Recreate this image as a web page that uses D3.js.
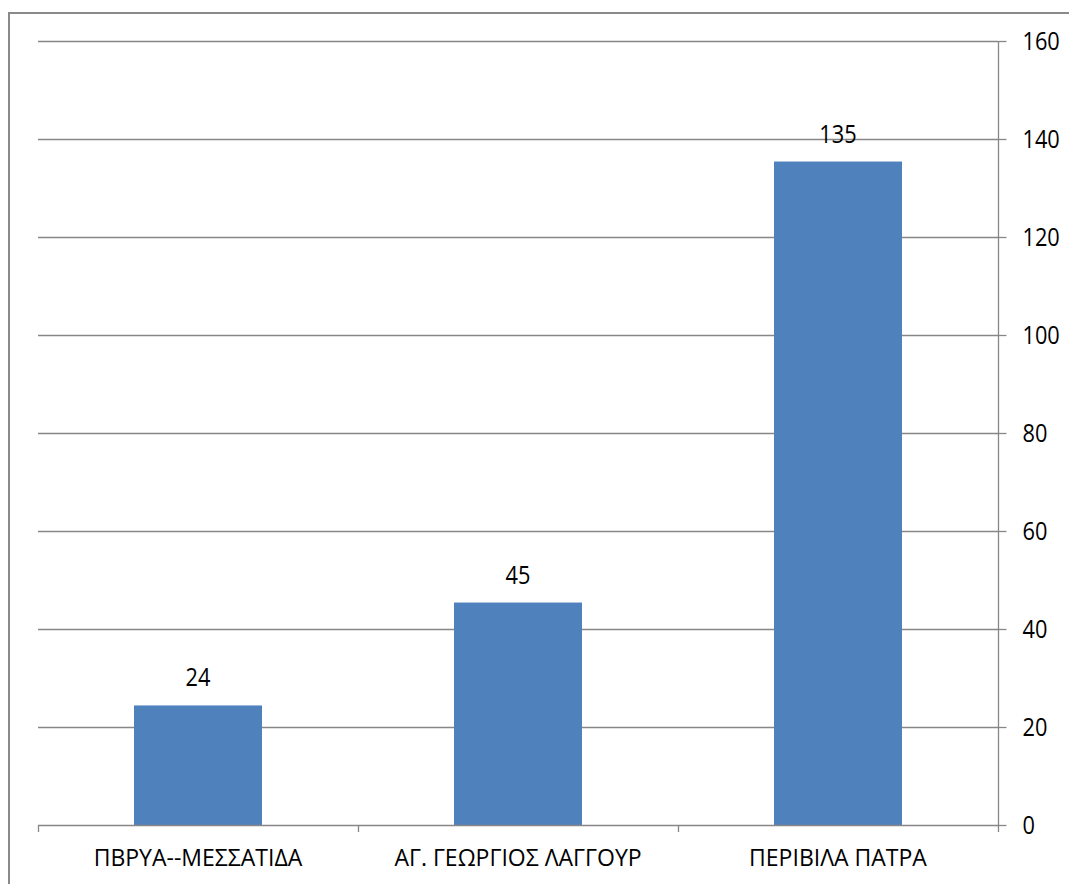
<!DOCTYPE html>
<html>
<head>
<meta charset="utf-8">
<script src="https://cdn.jsdelivr.net/npm/d3@7/dist/d3.min.js"></script>
<style>
  html, body { margin: 0; padding: 0; background: #fff; }
  svg { display: block; }
  text { font-family: "Open Sans", "Noto Sans", sans-serif; fill: #000; }
</style>
</head>
<body>
<svg id="chart" width="1069" height="884"></svg>
<script>
const categories = ["ΠΒΡΥΑ--ΜΕΣΣΑΤΙΔΑ", "ΑΓ. ΓΕΩΡΓΙΟΣ ΛΑΓΓΟΥΡ", "ΠΕΡΙΒΙΛΑ ΠΑΤΡΑ"];
const values = [24.4, 45.4, 135.4];
const yTicks = [0, 20, 40, 60, 80, 100, 120, 140, 160];

const svg = d3.select("#chart");
const plot = { left: 38, right: 998, top: 41, bottom: 825 };
const gridColor = "#878787";
const numSize = 25, numSquish = 0.87;

// outer border (extends past right/bottom of image)
svg.append("rect")
  .attr("x", 9).attr("y", 13)
  .attr("width", 1100).attr("height", 900)
  .attr("fill", "none").attr("stroke", "#8a8a8a").attr("stroke-width", 2);

const x = d3.scaleBand().domain(categories)
  .range([plot.left, plot.right]).paddingInner(0.6).paddingOuter(0.3);
const y = d3.scaleLinear().domain([0, 160]).range([plot.bottom, plot.top]);

// gridlines
svg.append("g").selectAll("line").data(yTicks.filter(d => d > 0)).join("line")
  .attr("x1", plot.left).attr("x2", plot.right)
  .attr("y1", d => Math.round(y(d)) + 0.5).attr("y2", d => Math.round(y(d)) + 0.5)
  .attr("stroke", gridColor).attr("stroke-width", 1.3);

// bars
svg.append("g").selectAll("rect").data(values).join("rect")
  .attr("x", (d, i) => x(categories[i]))
  .attr("width", x.bandwidth())
  .attr("y", d => y(d))
  .attr("height", d => y(0) - y(d))
  .attr("fill", "#4f81bd");

// data labels
svg.append("g").selectAll("text").data(values).join("text")
  .attr("transform", (d, i) => `translate(${x(categories[i]) + x.bandwidth() / 2},${y(d) - 19}) scale(${numSquish},1)`)
  .attr("text-anchor", "middle")
  .attr("font-size", numSize)
  .text(d => d3.format(".0f")(d));

// right axis
const yAxis = d3.axisRight(y).tickValues(yTicks).tickSize(8).tickFormat("");
const gy = svg.append("g").attr("transform", `translate(${plot.right + 0.5},0)`).call(yAxis);
gy.select(".domain").attr("stroke", gridColor).attr("stroke-width", 1.3).attr("d", `M0,${plot.top}V${plot.bottom}`);
gy.selectAll(".tick line").attr("stroke", gridColor).attr("stroke-width", 1.3);
gy.selectAll(".tick").append("text")
  .attr("transform", `translate(24,0) scale(${numSquish},1)`)
  .attr("dy", "0.35em")
  .attr("text-anchor", "start")
  .attr("font-size", numSize)
  .attr("font-family", "\"Open Sans\", sans-serif")
  .attr("fill", "#000")
  .text(d => d3.format("d")(d));

// bottom axis
const step = x.step();
const boundaries = categories.map(c => x(c) - step * 0.3).concat([plot.right]);
const gx = svg.append("g");
gx.append("line")
  .attr("x1", plot.left).attr("x2", plot.right)
  .attr("y1", plot.bottom + 0.5).attr("y2", plot.bottom + 0.5)
  .attr("stroke", gridColor).attr("stroke-width", 1.3);
gx.selectAll("line.tk").data(boundaries).join("line").attr("class", "tk")
  .attr("x1", d => Math.round(d) + 0.5).attr("x2", d => Math.round(d) + 0.5)
  .attr("y1", plot.bottom).attr("y2", plot.bottom + 7)
  .attr("stroke", gridColor).attr("stroke-width", 1.3);
gx.selectAll("text").data(categories).join("text")
  .attr("x", d => x(d) + x.bandwidth() / 2)
  .attr("y", 866)
  .attr("text-anchor", "middle")
  .attr("font-size", 23)
  .text(d => d);
</script>
</body>
</html>
